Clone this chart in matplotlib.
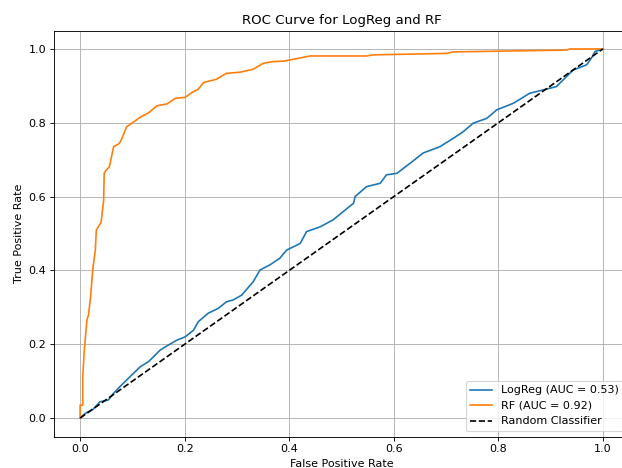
import matplotlib
matplotlib.use("Agg")
import matplotlib.pyplot as plt

# ROC points
lr_fpr = [0.0, 0.010, 0.025, 0.038, 0.054, 0.064, 0.076, 0.089, 0.099, 0.115, 0.131,
          0.153, 0.169, 0.185, 0.201, 0.217, 0.226, 0.245, 0.264, 0.280, 0.293, 0.309,
          0.331, 0.344, 0.363, 0.382, 0.395, 0.421, 0.433, 0.459, 0.484, 0.523, 0.526,
          0.548, 0.574, 0.586, 0.606, 0.631, 0.656, 0.688, 0.714, 0.733, 0.752, 0.778,
          0.797, 0.829, 0.860, 0.886, 0.911, 0.924, 0.943, 0.969, 0.978, 0.985, 1.0]
lr_tpr = [0.0, 0.013, 0.024, 0.044, 0.049, 0.067, 0.085, 0.103, 0.117, 0.139, 0.153,
          0.184, 0.198, 0.211, 0.220, 0.238, 0.261, 0.284, 0.297, 0.315, 0.320, 0.333,
          0.369, 0.401, 0.415, 0.433, 0.455, 0.473, 0.505, 0.518, 0.537, 0.582, 0.600,
          0.627, 0.636, 0.659, 0.663, 0.690, 0.718, 0.735, 0.758, 0.776, 0.799, 0.812,
          0.835, 0.853, 0.880, 0.889, 0.898, 0.916, 0.943, 0.957, 0.975, 0.993, 1.0]

rf_fpr = [0.0, 0.0, 0.005, 0.005, 0.008, 0.013, 0.016, 0.020, 0.024, 0.029, 0.031,
          0.040, 0.045, 0.046, 0.049, 0.056, 0.064, 0.075, 0.080, 0.089, 0.099, 0.115,
          0.131, 0.147, 0.166, 0.182, 0.201, 0.214, 0.226, 0.236, 0.261, 0.280, 0.306,
          0.331, 0.350, 0.370, 0.389, 0.408, 0.440, 0.548, 0.560, 0.701, 0.714, 0.930,
          0.937, 1.0]
rf_tpr = [0.0, 0.035, 0.035, 0.112, 0.184, 0.266, 0.279, 0.329, 0.401, 0.455, 0.509,
          0.530, 0.590, 0.663, 0.670, 0.681, 0.735, 0.744, 0.758, 0.789, 0.799, 0.815,
          0.827, 0.846, 0.851, 0.866, 0.869, 0.882, 0.891, 0.909, 0.918, 0.934, 0.937,
          0.945, 0.961, 0.966, 0.967, 0.972, 0.981, 0.981, 0.984, 0.988, 0.992, 0.997,
          1.0, 1.0]

# the reference is a scaled-down screenshot: render at 80 dpi so everything shrinks by 0.8
fig = plt.figure(figsize=(622 / 80, 468 / 80), dpi=80)
ax = fig.add_axes([54 / 622, 1 - 436.5 / 468, 575 / 622, 406 / 468])

ax.plot(lr_fpr, lr_tpr, label="LogReg (AUC = 0.53)")
ax.plot(rf_fpr, rf_tpr, label="RF (AUC = 0.92)")
ax.plot([0, 1], [0, 1], "k--", label="Random Classifier")
ax.set_xlabel("False Positive Rate")
ax.set_ylabel("True Positive Rate")
ax.set_title("ROC Curve for LogReg and RF")
ax.legend(loc="lower right")
ax.grid(True)

fig.savefig("out.png", dpi=80)
